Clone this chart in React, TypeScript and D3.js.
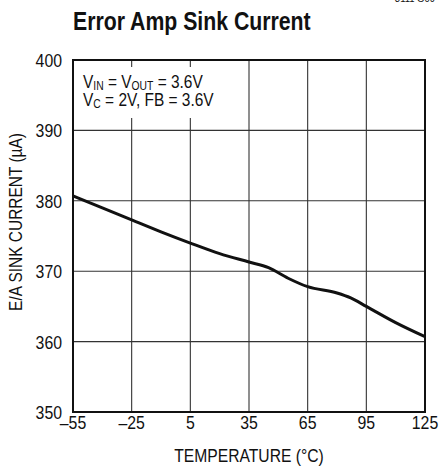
import React from "react";
import * as d3 from "d3";

// values
const temps = [-55, -40, -25, -10, 5, 20, 35, 45, 55, 65, 80, 87, 95, 110, 125];
const sinkCurrent = [380.7, 379.0, 377.3, 375.6, 374.0, 372.5, 371.3, 370.5, 369.0, 367.8, 366.9, 366.2, 365.0, 362.7, 360.7];
const xTicks = [-55, -25, 5, 35, 65, 95, 125];
const yTicks = [350, 360, 370, 380, 390, 400];

const W = 439;
const H = 468;
const margin = { top: 60, right: 14, bottom: 56, left: 73 };
const font = "'Liberation Sans', Arial, sans-serif";

// condensed text: Liberation Sans squeezed horizontally
const Narrow = ({ x, y, sx = 0.86, anchor = "start", size = 17, weight = "normal", rotate = 0, children }: any) => (
  <text
    transform={`translate(${x},${y}) rotate(${rotate}) scale(${sx},1)`}
    textAnchor={anchor}
    fontSize={size}
    fontWeight={weight}
    fill="#111"
  >
    {children}
  </text>
);

const App = () => {
  const innerW = W - margin.left - margin.right;
  const innerH = H - margin.top - margin.bottom;

  const xScale = d3.scaleLinear().domain([-55, 125]).range([0, innerW]);
  const yScale = d3.scaleLinear().domain([350, 400]).range([innerH, 0]);

  const line = d3
    .line<number>()
    .x((d, i) => xScale(temps[i]))
    .y((d) => yScale(d))
    .curve(d3.curveMonotoneX);

  const fmt = (t: number) => (t < 0 ? "\u2013" + Math.abs(t) : String(t));

  return (
    <svg
      width={W}
      height={H}
      style={{ position: "absolute", left: 0, top: 0, background: "#fff" }}
      fontFamily={font}
    >
      <Narrow x={435} y={2} anchor="end" size={11}>
        3111 G09
      </Narrow>
      <Narrow x={73} y={30} size={25} weight="bold" sx={0.85}>
        Error Amp Sink Current
      </Narrow>

      <g transform={`translate(${margin.left},${margin.top})`}>
        {/* grid */}
        {xTicks.slice(1, -1).map((t) => (
          <line key={"gx" + t} x1={xScale(t)} x2={xScale(t)} y1={0} y2={innerH} stroke="#333" strokeWidth={1.1} />
        ))}
        {yTicks.slice(1, -1).map((t) => (
          <line key={"gy" + t} x1={0} x2={innerW} y1={yScale(t)} y2={yScale(t)} stroke="#333" strokeWidth={1.1} />
        ))}
        {/* annotation box */}
        <rect x={1} y={7} width={166} height={51} fill="#fff" />
        <Narrow x={10} y={28} size={18} sx={0.86}>
          V<tspan fontSize={12} dy={2}>IN</tspan>
          <tspan dy={-2}> = V</tspan>
          <tspan fontSize={12} dy={2}>OUT</tspan>
          <tspan dy={-2}> = 3.6V</tspan>
        </Narrow>
        <Narrow x={10} y={46} size={18} sx={0.86}>
          V<tspan fontSize={12} dy={2}>C</tspan>
          <tspan dy={-2}> = 2V, FB = 3.6V</tspan>
        </Narrow>

        {/* curve */}
        <path d={line(sinkCurrent) || ""} fill="none" stroke="#111" strokeWidth={3} strokeLinejoin="round" />

        {/* frame */}
        <rect x={0} y={0} width={innerW} height={innerH} fill="none" stroke="#111" strokeWidth={2} />

        {/* y tick labels */}
        {yTicks.map((t) => (
          <Narrow key={"ly" + t} x={-11} y={yScale(t) + 7} anchor="end" size={18} sx={0.88}>
            {t}
          </Narrow>
        ))}
        {/* x tick labels */}
        {xTicks.map((t) => (
          <Narrow key={"lx" + t} x={xScale(t)} y={innerH + 17} anchor="middle" size={18} sx={0.88}>
            {fmt(t)}
          </Narrow>
        ))}
        <Narrow x={innerW / 2} y={innerH + 50} anchor="middle" size={18} sx={0.87}>
          TEMPERATURE (°C)
        </Narrow>
        <Narrow x={-51} y={162} anchor="middle" size={18} sx={0.86} rotate={-90}>
          E/A SINK CURRENT (µA)
        </Narrow>
      </g>
    </svg>
  );
};

export default App;
